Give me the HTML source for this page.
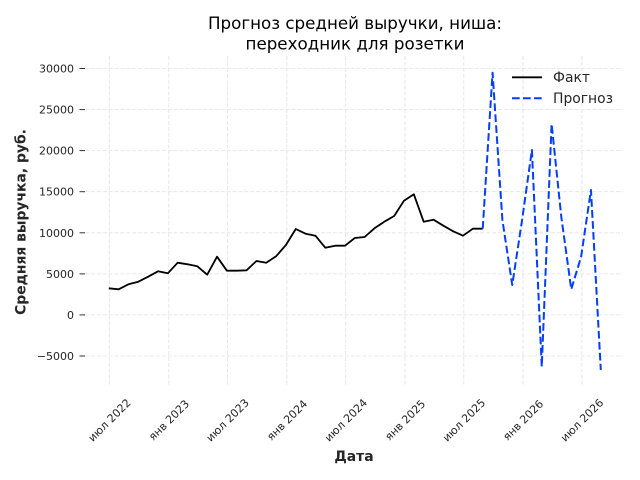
<!DOCTYPE html>
<html>
<head>
<meta charset="utf-8">
<style>
  html,body{margin:0;padding:0;background:#fff;}
  svg{display:block;}
  text{font-family:"DejaVu Sans","Liberation Sans",sans-serif;fill:#262626;}
</style>
</head>
<body>
<svg width="640" height="480" viewBox="0 0 640 480" xmlns="http://www.w3.org/2000/svg">
  <rect width="640" height="480" fill="#fff"/>

  <!-- grid -->
  <g stroke="#e2e2e2" stroke-width="0.8" stroke-dasharray="4.1,1.8" fill="none">
    <line x1="85" x2="623" y1="68.5" y2="68.5"/>
    <line x1="85" x2="623" y1="109.6" y2="109.6"/>
    <line x1="85" x2="623" y1="150.6" y2="150.6"/>
    <line x1="85" x2="623" y1="191.7" y2="191.7"/>
    <line x1="85" x2="623" y1="232.8" y2="232.8"/>
    <line x1="85" x2="623" y1="273.9" y2="273.9"/>
    <line x1="85" x2="623" y1="314.9" y2="314.9"/>
    <line x1="85" x2="623" y1="356" y2="356"/>

    <line y1="56" y2="385" x1="109.3" x2="109.3"/>
    <line y1="56" y2="385" x1="168.8" x2="168.8"/>
    <line y1="56" y2="385" x1="227.4" x2="227.4"/>
    <line y1="56" y2="385" x1="286.9" x2="286.9"/>
    <line y1="56" y2="385" x1="345.7" x2="345.7"/>
    <line y1="56" y2="385" x1="405.0" x2="405.0"/>
    <line y1="56" y2="385" x1="463.8" x2="463.8"/>
    <line y1="56" y2="385" x1="523.0" x2="523.0"/>
    <line y1="56" y2="385" x1="581.9" x2="581.9"/>
  </g>

  <!-- y ticks -->
  <g stroke="#333" stroke-width="1">
    <line x1="79.5" x2="85" y1="68.5" y2="68.5"/>
    <line x1="79.5" x2="85" y1="109.6" y2="109.6"/>
    <line x1="79.5" x2="85" y1="150.6" y2="150.6"/>
    <line x1="79.5" x2="85" y1="191.7" y2="191.7"/>
    <line x1="79.5" x2="85" y1="232.8" y2="232.8"/>
    <line x1="79.5" x2="85" y1="273.9" y2="273.9"/>
    <line x1="79.5" x2="85" y1="314.9" y2="314.9"/>
    <line x1="79.5" x2="85" y1="356" y2="356"/>
  </g>
  <g font-size="11" text-anchor="end">
    <text x="74" y="72.5">30000</text>
    <text x="74" y="113.6">25000</text>
    <text x="74" y="154.6">20000</text>
    <text x="74" y="195.7">15000</text>
    <text x="74" y="236.8">10000</text>
    <text x="74" y="277.9">5000</text>
    <text x="74" y="318.9">0</text>
    <text x="74" y="360">−5000</text>
  </g>

  <!-- x tick labels -->
  <g font-size="11" text-anchor="middle">
    <text x="109.3" y="424" transform="rotate(-45 109.3 420)">июл 2022</text>
    <text x="168.8" y="424" transform="rotate(-45 168.8 420)">янв 2023</text>
    <text x="227.4" y="424" transform="rotate(-45 227.4 420)">июл 2023</text>
    <text x="286.9" y="424" transform="rotate(-45 286.9 420)">янв 2024</text>
    <text x="345.7" y="424" transform="rotate(-45 345.7 420)">июл 2024</text>
    <text x="405.0" y="424" transform="rotate(-45 405.0 420)">янв 2025</text>
    <text x="463.8" y="424" transform="rotate(-45 463.8 420)">июл 2025</text>
    <text x="523.0" y="424" transform="rotate(-45 523.0 420)">янв 2026</text>
    <text x="581.9" y="424" transform="rotate(-45 581.9 420)">июл 2026</text>
  </g>

  <!-- axis labels -->
  <text x="354" y="461" font-size="13.9" font-weight="bold" text-anchor="middle">Дата</text>
  <text transform="translate(25.5 222) rotate(-90)" font-size="13.9" font-weight="bold" text-anchor="middle">Средняя выручка, руб.</text>

  <!-- title -->
  <text x="355" y="29" font-size="16.7" text-anchor="middle" fill="#000" style="fill:#000">Прогноз средней выручки, ниша:</text>
  <text x="355" y="49.5" font-size="16.7" text-anchor="middle" style="fill:#000">переходник для розетки</text>

  <!-- fact line -->
  <polyline fill="none" stroke="#000" stroke-width="1.8" stroke-linejoin="round" stroke-linecap="butt"
    points="108.8,288.3 118.64,289.3 128.48,284.3 138.32,281.7 148.16,276.7 158.0,271.3 167.84,273.3 177.68,262.7 187.52,264.3 197.36,266.3 207.2,274.7 217.04,256.7 226.88,270.7 236.72,270.7 246.56,270.3 256.4,261 266.24,262.7 276.08,256.3 285.92,245 295.76,229 305.6,233.7 315.44,235.7 325.28,247.7 335.12,245.7 344.96,245.7 354.8,238 364.64,237 374.48,228.3 384.32,221.7 394.16,216 404.0,200.7 413.84,194.3 423.68,221.7 433.52,219.7 443.36,225.7 453.2,231.3 463.04,235.7 472.88,228.7 482.72,228.7"/>

  <!-- forecast line -->
  <polyline fill="none" stroke="#023eff" stroke-width="2" stroke-dasharray="7.7,3.3" stroke-linejoin="round"
    points="482.72,228.7 492.56,72.7 502.4,220 512.24,285 522.08,220 531.92,150 541.76,366.7 551.6,124 561.44,218 571.28,289.3 581.12,256.7 590.96,190 600.8,370"/>

  <!-- legend -->
  <line x1="512" x2="542" y1="77.3" y2="77.3" stroke="#000" stroke-width="1.8"/>
  <line x1="512" x2="542" y1="98.3" y2="98.3" stroke="#023eff" stroke-width="2" stroke-dasharray="7.7,3.3"/>
  <text x="553" y="82" font-size="13.9">Факт</text>
  <text x="553" y="103" font-size="13.9">Прогноз</text>
</svg>
</body>
</html>
